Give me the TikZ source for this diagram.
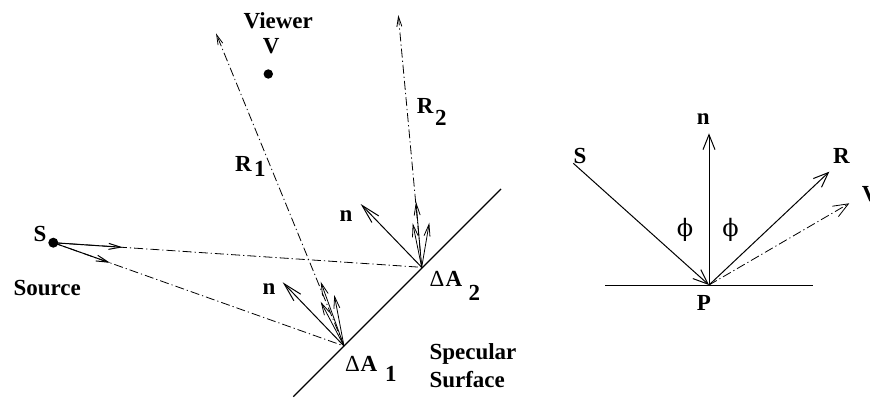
\documentclass[tikz,border=0pt]{standalone}
\usepackage{fontspec}
\setmainfont{Liberation Serif}
\newfontfamily\phifont{DejaVu Serif}
\usetikzlibrary{arrows.meta}
\begin{document}
\begin{tikzpicture}[x=1pt,y=-1pt,
  lbl/.style={font=\fontsize{23}{27}\selectfont\bfseries, anchor=base west, inner sep=0pt},
  sym/.style={font=\fontsize{23}{27}\selectfont, anchor=base west, inner sep=0pt},
  phisym/.style={font=\fontsize{24}{28}\selectfont\phifont, anchor=center, inner sep=0pt},
  surf/.style={line width=1.2pt},
  solid arrow/.style={line width=1pt},
  ray/.style={line width=0.8pt, dash pattern=on 9pt off 3pt on 1.2pt off 3pt},
  nhead/.style={-{Straight Barb[length=19pt,width=9.5pt]}},
  shead/.style={-{Straight Barb[length=12pt,width=6pt]}},
  thead/.style={-{Straight Barb[length=10pt,width=5pt]}},
  bighead/.style={-{Straight Barb[length=15pt,width=12pt]}}]
\useasboundingbox (0,0) rectangle (870,397);

% ---------- left diagram ----------
\coordinate (S) at (53.3,242.7);
\coordinate (V) at (268.3,74);
\coordinate (A1) at (344,346);
\coordinate (A2) at (421.7,267.3);
\coordinate (surfL) at (293.3,396.7);
\coordinate (surfR) at (501,189);
\coordinate (n1) at (282.7,282.3);
\coordinate (n2) at (360.7,204);
\coordinate (r1a) at (320.7,281.7);
\coordinate (r1b) at (320.7,301.7);
\coordinate (r1c) at (334.3,295);
\coordinate (r2a) at (416,201.7);
\coordinate (r2b) at (412.7,223.3);
\coordinate (r2c) at (429.3,222.7);
\coordinate (R1) at (216,33.3);
\coordinate (R2) at (398.3,15);
\coordinate (sa) at (122.7,247.3);
\coordinate (sb) at (110,262.8);

\draw[surf] (surfL) -- (surfR);

% incident rays
\draw[ray] (S) -- (A2);
\draw[ray] (S) -- (A1);
\draw[solid arrow,shead] (S) -- (sa);
\draw[solid arrow,shead] (S) -- (sb);

% reflected rays
\draw[ray,thead] (A1) -- (R1);
\draw[ray,thead] (A2) -- (R2);

% normals
\draw[solid arrow,nhead] (A1) -- (n1);
\draw[solid arrow,nhead] (A2) -- (n2);

% reflection lobes
\draw[line width=0.8pt,shead] (A1) -- (r1a);
\draw[line width=0.8pt,shead] (A1) -- (r1b);
\draw[line width=0.8pt,shead] (A1) -- (r1c);
\draw[line width=0.8pt,shead] (A2) -- (r2a);
\draw[line width=0.8pt,shead] (A2) -- (r2b);
\draw[line width=0.8pt,shead] (A2) -- (r2c);

\fill (S) circle (5pt);
\fill (V) circle (4.7pt);

\node[lbl] (tViewer) at (243.3,28.3) {Viewer};
\node[lbl] (tV) at (262.7,53) {V};
\node[lbl] (tR1) at (235,171.7) {R};
\node[lbl] (tR1s) at (254,176.7) {1};
\node[lbl] (tR2) at (416.7,113.3) {R};
\node[lbl] (tR2s) at (435,125) {2};
\node[lbl] (tn1) at (262.5,294) {n};
\node[lbl] (tn2) at (339.3,221.7) {n};
\node[lbl] (tS) at (33.3,241.7) {S};
\node[lbl] (tSource) at (13.3,295) {Source};
\node[sym] (tD1) at (345,371.7) {Δ};
\node[lbl] (tA1) at (360.5,371.7) {A};
\node[lbl] (tA1s) at (385,381.7) {1};
\node[sym] (tD2) at (429.3,286.7) {Δ};
\node[lbl] (tA2) at (445.5,286.7) {A};
\node[lbl] (tA2s) at (468.3,300) {2};
\node[lbl] (tSpec) at (429.3,359) {Specular};
\node[lbl] (tSurf) at (429.3,387.3) {Surface};

% ---------- right diagram ----------
\coordinate (P) at (709,285);
\coordinate (hL) at (605,285);
\coordinate (hR) at (813.3,285);
\coordinate (Sr) at (573.3,163.3);
\coordinate (nr) at (709,133.3);
\coordinate (Rr) at (829.3,171.7);
\coordinate (Vr) at (849.3,203.3);

\draw[solid arrow] (hL) -- (hR);
\draw[solid arrow,bighead] (Sr) -- (P);
\draw[solid arrow,bighead] (P) -- (nr);
\draw[solid arrow,bighead] (P) -- (Rr);
\draw[ray,bighead] (P) -- (Vr);

\node[lbl] (trS) at (573.3,163) {S};
\node[lbl] (trn) at (696.7,124.3) {n};
\node[lbl] (trR) at (833,163.3) {R};
\node[lbl] (trV) at (861.7,201.7) {V};
\node[lbl] (trP) at (696.7,310) {P};
\node[phisym] (phiL) at (685,230) {ϕ};
\node[phisym] (phiR) at (730.5,230) {ϕ};
\end{tikzpicture}
\end{document}
